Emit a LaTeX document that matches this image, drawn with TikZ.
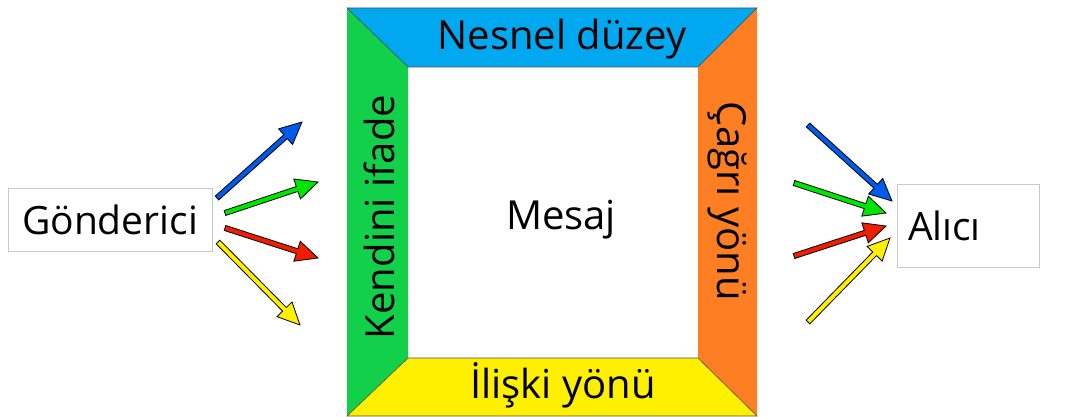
\documentclass[tikz,border=0pt]{standalone}
\usepackage{fontspec}
\setmainfont{Open Sans}
\usetikzlibrary{calc}
\definecolor{bandblue}{RGB}{0,168,240}
\definecolor{bandgreen}{RGB}{18,208,74}
\definecolor{bandorange}{RGB}{253,126,35}
\definecolor{bandyellow}{RGB}{255,240,0}
\definecolor{arblue}{RGB}{0,90,235}
\definecolor{argreen}{RGB}{0,230,0}
\definecolor{arred}{RGB}{240,30,0}
\definecolor{aryellow}{RGB}{255,240,0}
\definecolor{boxgray}{RGB}{200,200,200}
\tikzset{
  band/.style={draw=black!70, line width=0.6pt, line join=miter},
  lbl/.style={font=\fontsize{40}{44}\selectfont, inner sep=0pt},
  personbox/.style={draw=boxgray, line width=0.8pt, font=\fontsize{39}{42}\selectfont},
  arrowstyle/.style={draw=black, line width=0.8pt, line join=miter}
}
\newcommand\fatarrow[3]{%
  \path let \p1=(#1), \p2=(#2) in \pgfextra{%
    \pgfmathsetmacro\faangtmp{atan2(\y2-\y1,\x2-\x1)}%
    \pgfmathsetmacro\falentmp{veclen(\x2-\x1,\y2-\y1)}%
    \xdef\faang{\faangtmp}\xdef\falen{\falentmp}};
  \filldraw[arrowstyle, fill=#3, shift={(#1)}, rotate=\faang]
    (0pt,-2.6pt) -- (\falen pt-22pt,-2.6pt) -- (\falen pt-22pt,-10.5pt) -- (\falen pt,0pt)
    -- (\falen pt-22pt,10.5pt) -- (\falen pt-22pt,2.6pt) -- (0pt,2.6pt) -- cycle;
}
\begin{document}
\begin{tikzpicture}[x=1pt,y=-1pt]
\useasboundingbox (0,0) rectangle (1067,417);
% corners
\coordinate (o1) at (347,8);
\coordinate (o2) at (757,8);
\coordinate (o3) at (757,416);
\coordinate (o4) at (347,416);
\coordinate (i1) at (408,67);
\coordinate (i2) at (698,67);
\coordinate (i3) at (698,358);
\coordinate (i4) at (408,358);
% bands
\fill[bandgreen] (o1) -- (i1) -- (i4) -- (o4) -- cycle;
\fill[bandorange] (o2) -- (i2) -- (i3) -- (o3) -- cycle;
\filldraw[band, fill=bandblue] (o1) -- (o2) -- (i2) -- (i1) -- cycle;
\filldraw[band, fill=bandyellow] (o4) -- (o3) -- (i3) -- (i4) -- cycle;
% labels
\node[lbl] (top) at (562,39) {Nesnel düzey};
\node[lbl] (bottom) at (563,385) {İlişki yönü};
\node[lbl, rotate=90] (left) at (379,217) {Kendini ifade};
\node[lbl, rotate=-90] (right) at (727,201) {Çağrı yönü};
\node[lbl] (msg) at (561,220) {Mesaj};
% persons
\node[personbox, minimum width=204, minimum height=63, inner sep=0pt] (snd) at (110,219.5) {Gönderici};
\node[personbox, minimum width=142, minimum height=83, inner xsep=11pt, inner ysep=0pt, text width=120, align=left] (rcv) at (968,225.5) {Alıcı};
% arrow coordinates
\coordinate (sb1) at (217,198); \coordinate (sb2) at (302,122);
\coordinate (sg1) at (225,213); \coordinate (sg2) at (318,182);
\coordinate (sr1) at (225,228); \coordinate (sr2) at (318,258);
\coordinate (sy1) at (218,242); \coordinate (sy2) at (300,325);
\coordinate (rb1) at (808,125); \coordinate (rb2) at (892,201);
\coordinate (rg1) at (794,183); \coordinate (rg2) at (886,213);
\coordinate (rr1) at (794,256); \coordinate (rr2) at (886,226);
\coordinate (ry1) at (808,322); \coordinate (ry2) at (890,238);
\fatarrow{sb1}{sb2}{arblue}
\fatarrow{sg1}{sg2}{argreen}
\fatarrow{sr1}{sr2}{arred}
\fatarrow{sy1}{sy2}{aryellow}
\fatarrow{rb1}{rb2}{arblue}
\fatarrow{rg1}{rg2}{argreen}
\fatarrow{rr1}{rr2}{arred}
\fatarrow{ry1}{ry2}{aryellow}
\end{tikzpicture}
\end{document}
